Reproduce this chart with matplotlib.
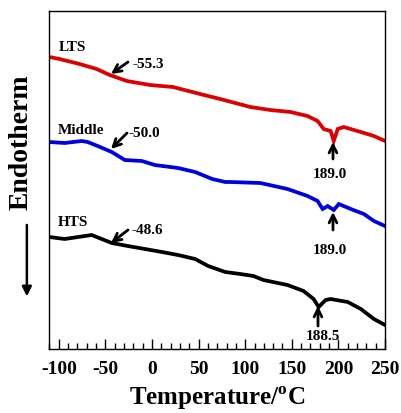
import matplotlib
matplotlib.use("Agg")
import matplotlib.pyplot as plt

plt.rcParams['font.family'] = ['Liberation Serif', 'DejaVu Serif']
plt.rcParams['font.weight'] = 'bold'
plt.rcParams['axes.unicode_minus'] = False
plt.rcParams['mathtext.fontset'] = 'custom'
plt.rcParams['mathtext.rm'] = 'Liberation Serif:bold'
plt.rcParams['mathtext.bf'] = 'Liberation Serif:bold'

# Temperatures (°C) and heat-flow (arbitrary units)
lts_T = [-110, -99.2, -77.7, -59.4, -45.3, -27.0, -2.2, 22.5, 51.6, 73.2, 105.5, 127.1,
         148.6, 166.9, 177.7, 184.2, 191.7, 195.0, 199.3, 205.7, 224.1, 238.1, 250]
lts_H = [2.92, 2.90, 2.85, 2.80, 2.74, 2.68, 2.64, 2.62, 2.55, 2.50, 2.42, 2.39,
         2.37, 2.33, 2.28, 2.20, 2.18, 2.08, 2.20, 2.22, 2.17, 2.13, 2.08]

mid_T = [-110, -93.8, -75.5, -69.1, -58.3, -43.2, -29.2, -10.9, 3.1, 27.9, 46.3, 64.6,
         78.6, 84.0, 116.3, 145.4, 166.9, 177.7, 183.1, 188.5, 195.0, 200.4, 213.3,
         227.3, 238.1, 250]
mid_H = [2.07, 2.06, 2.08, 2.07, 2.03, 1.97, 1.89, 1.88, 1.84, 1.81, 1.77, 1.70,
         1.67, 1.67, 1.66, 1.60, 1.53, 1.48, 1.40, 1.43, 1.39, 1.45, 1.40,
         1.35, 1.28, 1.23]

hts_T = [-110, -93.8, -64.7, -43.2, -26.0, -7.6, 10.7, 27.9, 46.3, 60.3, 78.6, 94.7,
         108.8, 119.5, 145.4, 162.6, 173.4, 178.8, 186.3, 191.7, 210.0, 224.1, 238.1, 250]
hts_H = [1.12, 1.10, 1.14, 1.06, 1.03, 1.00, 0.97, 0.94, 0.90, 0.83, 0.77, 0.75,
         0.73, 0.69, 0.64, 0.58, 0.50, 0.42, 0.49, 0.50, 0.47, 0.40, 0.30, 0.24]

series_names = ["LTS", "Middle", "HTS"]
xticks = [-100, -50, 0, 50, 100, 150, 200, 250]

fig = plt.figure(figsize=(4.01, 4.14), dpi=100)
ax = fig.add_axes([0.1234, 0.1546, 0.8367, 0.8164])

lw = 2.7
ax.plot(lts_T, lts_H, color='#dd0000', lw=lw, solid_joinstyle='miter')
ax.plot(mid_T, mid_H, color='#0000dd', lw=lw, solid_joinstyle='miter')
ax.plot(hts_T, hts_H, color='black', lw=lw, solid_joinstyle='miter')

ax.set_xlim(-110, 250)
ax.set_ylim(0, 3.38)
ax.set_xticks(xticks)
ax.set_xticks(range(-110, 251, 10), minor=True)
ax.set_xticklabels([str(t) for t in xticks], fontsize=14, fontweight='bold')
ax.tick_params(axis='x', which='major', direction='in', length=7, width=1, pad=8)
ax.tick_params(axis='x', which='minor', direction='in', length=4, width=1)
ax.set_yticks([])
for s in ax.spines.values():
    s.set_linewidth(1.0)

fs = 11
# series labels
ax.text(-99.8, 3.03, series_names[0], fontsize=fs, fontweight='bold', va='center', ha='left')
ax.text(-100.9, 2.20, series_names[1], fontsize=fs, fontweight='bold', va='center', ha='left')
ax.text(-100.9, 1.27, series_names[2], fontsize=fs, fontweight='bold', va='center', ha='left')

akw = dict(arrowstyle='->', lw=2.0, color='black', mutation_scale=14, shrinkA=0, shrinkB=0)
# glass transition annotations
ax.annotate("", xy=(-44.0, 2.75), xytext=(-25.8, 2.87), arrowprops=akw)
ax.text(-20.4, 2.86, "-55.3", fontsize=fs, fontweight='bold', va='center', ha='left')
ax.annotate("", xy=(-44.0, 2.00), xytext=(-26.8, 2.16), arrowprops=akw)
ax.text(-24.7, 2.17, "-50.0", fontsize=fs, fontweight='bold', va='center', ha='left')
ax.annotate("", xy=(-44.0, 1.06), xytext=(-25.8, 1.19), arrowprops=akw)
ax.text(-21.5, 1.19, "-48.6", fontsize=fs, fontweight='bold', va='center', ha='left')

# melting peaks
ax.annotate("", xy=(194.2, 2.07), xytext=(194.2, 1.90), arrowprops=akw)
ax.text(191, 1.76, "189.0", fontsize=fs, fontweight='bold', va='center', ha='center')
ax.annotate("", xy=(194.2, 1.37), xytext=(194.2, 1.19), arrowprops=akw)
ax.text(191, 0.99, "189.0", fontsize=fs, fontweight='bold', va='center', ha='center')
ax.annotate("", xy=(178.1, 0.43), xytext=(178.1, 0.23), arrowprops=akw)
ax.text(183.4, 0.13, "188.5", fontsize=fs, fontweight='bold', va='center', ha='center')

fig.text(0.541, 0.037, "Temperature/$^{\\mathrm{o}}$C", fontsize=18, fontweight='bold',
         ha='center', va='center')
fig.text(0.052, 0.657, "Endotherm", fontsize=20, fontweight='bold', rotation=90,
         ha='center', va='center')
fig.add_artist(matplotlib.patches.FancyArrowPatch((0.067, 0.461), (0.067, 0.275),
               transform=fig.transFigure, arrowstyle='-|>', mutation_scale=14,
               lw=1.8, color='black'))

fig.savefig("out.png", dpi=100)
